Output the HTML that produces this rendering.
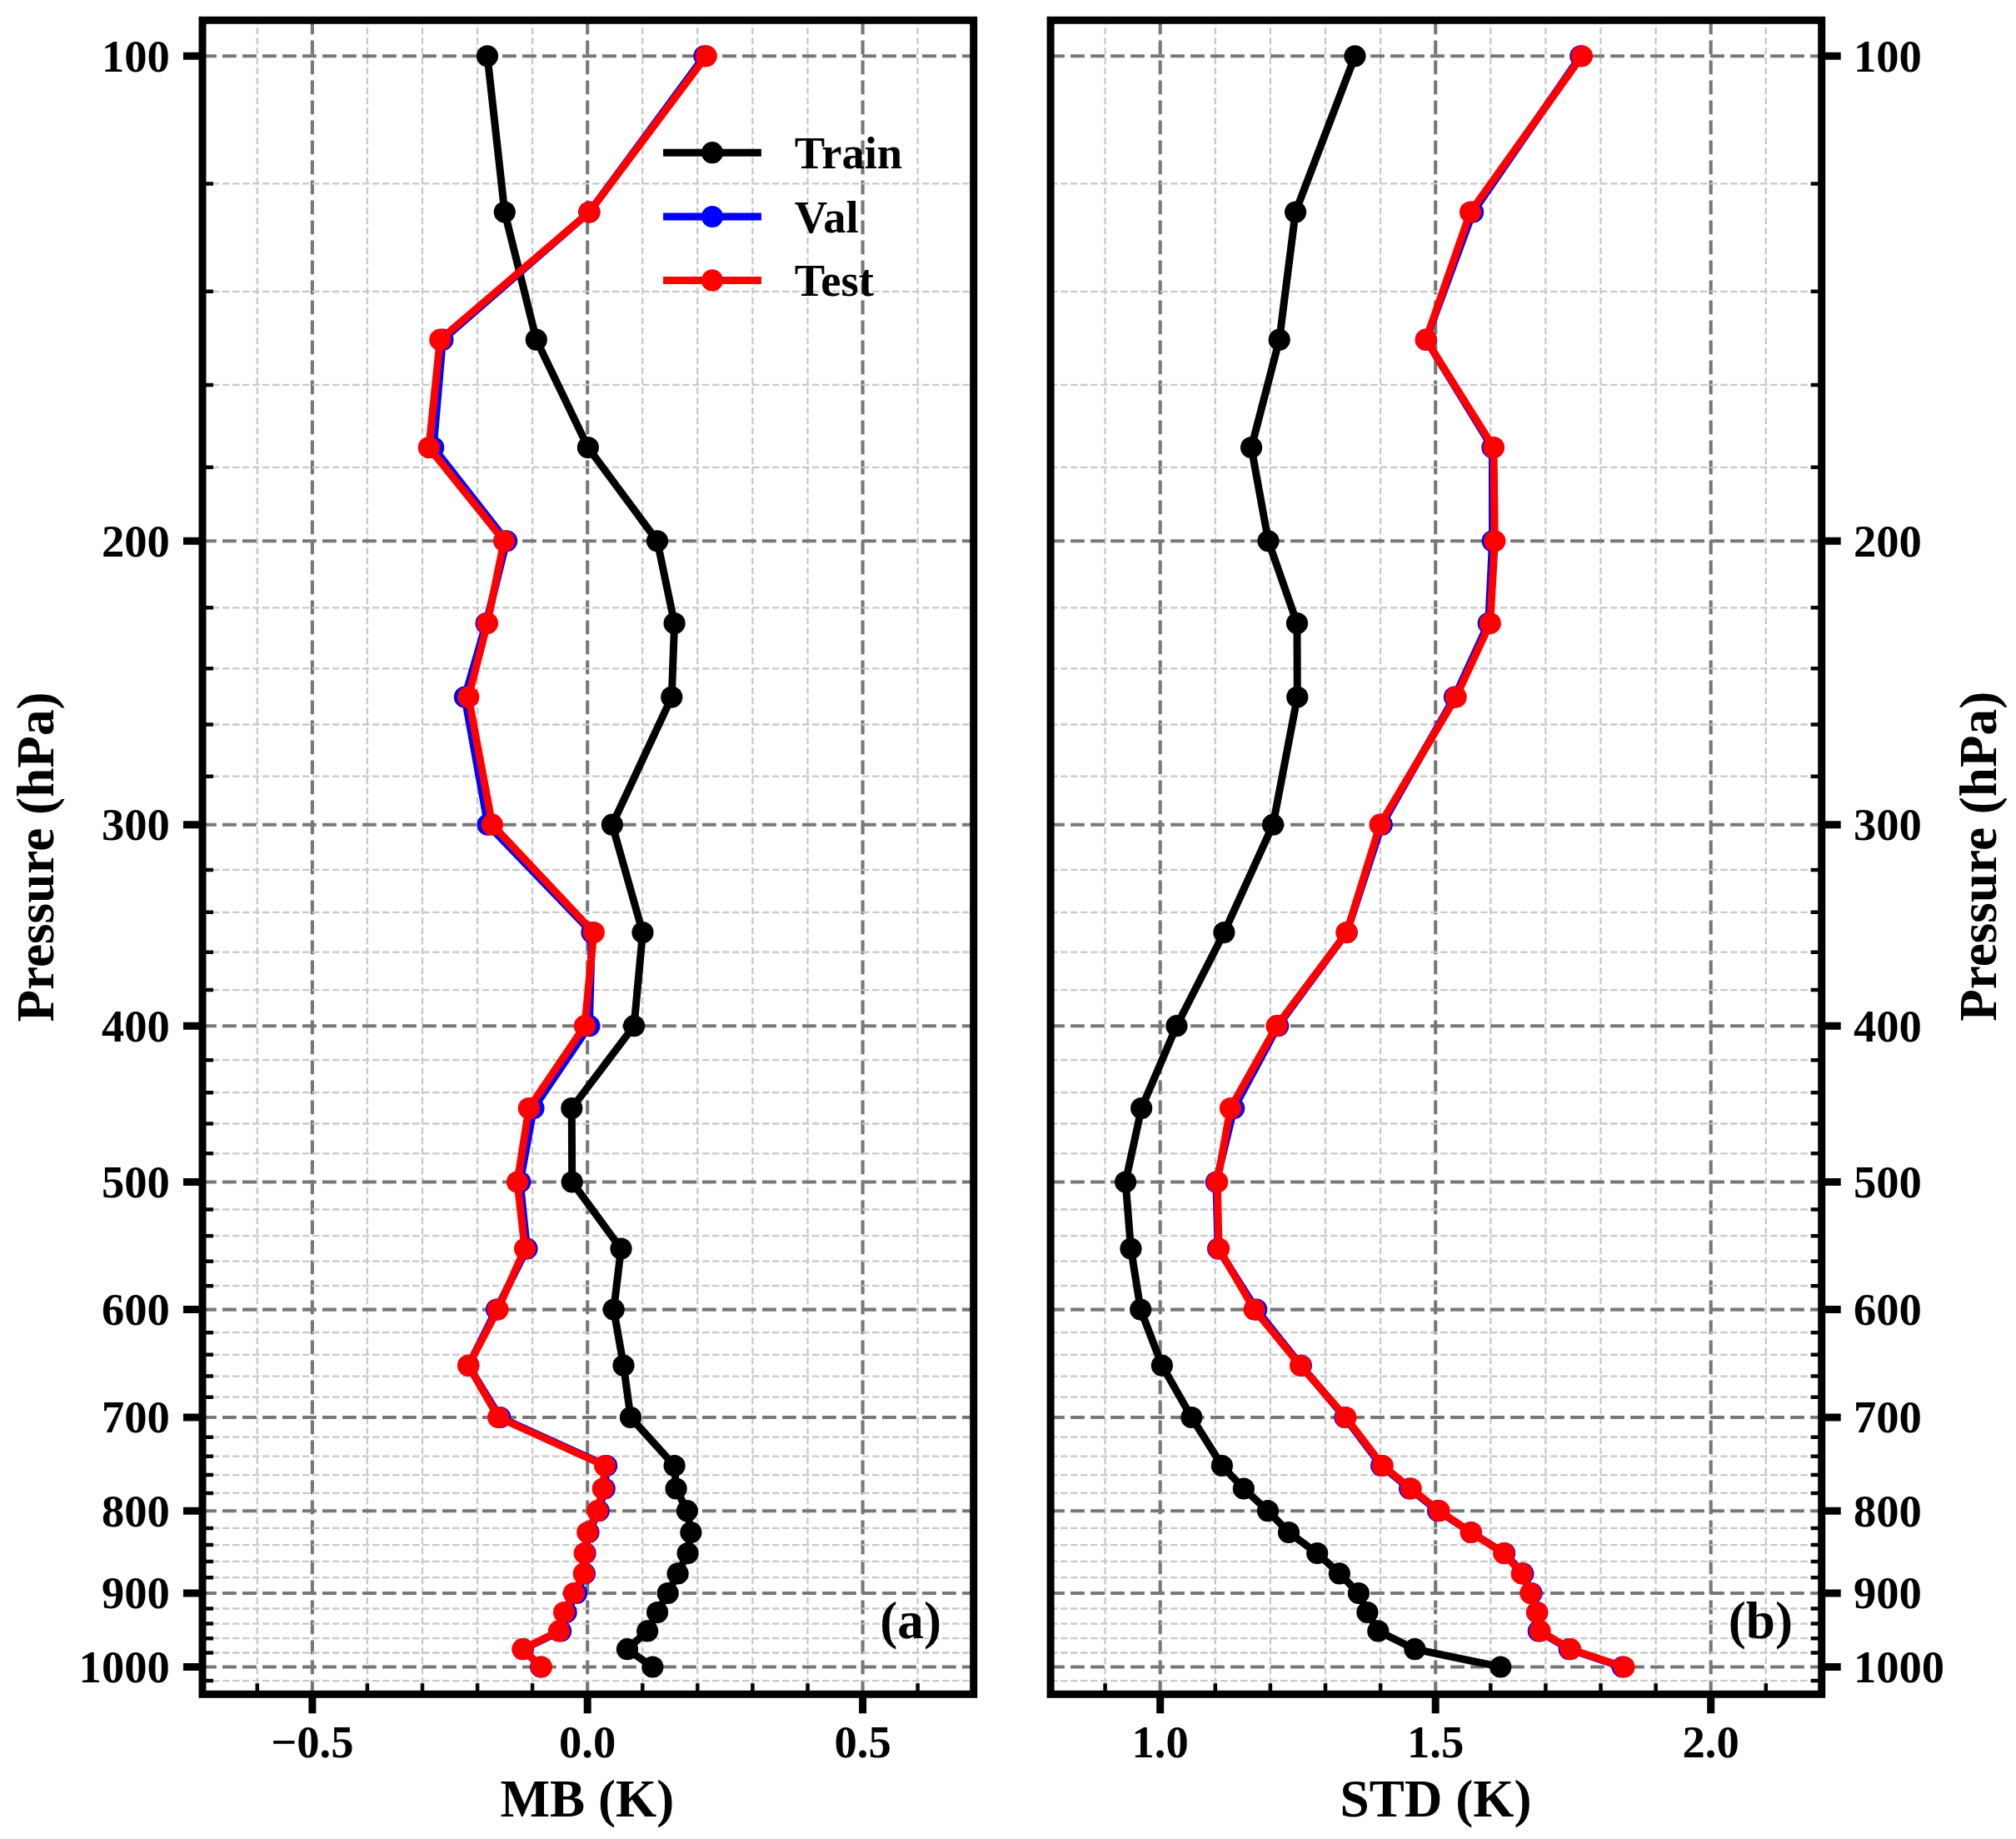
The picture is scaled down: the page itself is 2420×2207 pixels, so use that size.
<!DOCTYPE html>
<html lang="en"><head><meta charset="utf-8"><title>MB and STD profiles</title>
<style>html,body{margin:0;padding:0;background:#fff}svg{display:block}text{font-family:'Liberation Serif', 'Times New Roman', Times, serif;font-weight:bold;fill:#000}.tk{font-size:54.6px}.lb{font-size:63.2px}</style></head><body>
<svg width="2420" height="2207" viewBox="0 0 2420 2207">
<rect width="2420" height="2207" fill="#fff"/>
<g>
<path d="M374.9 2033.3V24.3M705.2 2033.3V24.3M1035.6 2033.3V24.3" fill="none" stroke="#787878" stroke-width="4.1" stroke-dasharray="16.8 7.2"/>
<path d="M308.8 2033.3V24.3M440.9 2033.3V24.3M507.0 2033.3V24.3M573.1 2033.3V24.3M639.1 2033.3V24.3M771.3 2033.3V24.3M837.3 2033.3V24.3M903.4 2033.3V24.3M969.5 2033.3V24.3M1101.6 2033.3V24.3" fill="none" stroke="#c9c9c9" stroke-width="2.3" stroke-dasharray="8.4 3.6"/>
<path d="M243.0 67.3H1168.7M243.0 649.3H1168.7M243.0 989.7H1168.7M243.0 1231.2H1168.7M243.0 1418.5H1168.7M243.0 1571.6H1168.7M243.0 1701.0H1168.7M243.0 1813.2H1168.7M243.0 1912.0H1168.7M243.0 2000.5H1168.7" fill="none" stroke="#787878" stroke-width="4.1" stroke-dasharray="16.8 7.2"/>
<path d="M243.0 220.4H1168.7M243.0 349.8H1168.7M243.0 461.9H1168.7M243.0 560.8H1168.7M243.0 729.3H1168.7M243.0 802.3H1168.7M243.0 869.5H1168.7M243.0 931.7H1168.7M243.0 1043.9H1168.7M243.0 1094.8H1168.7M243.0 1142.7H1168.7M243.0 1188.1H1168.7M243.0 1272.2H1168.7M243.0 1311.2H1168.7M243.0 1348.5H1168.7M243.0 1384.3H1168.7M243.0 1451.5H1168.7M243.0 1483.2H1168.7M243.0 1513.7H1168.7M243.0 1543.2H1168.7M243.0 1599.2H1168.7M243.0 1625.8H1168.7M243.0 1651.6H1168.7M243.0 1676.7H1168.7M243.0 1724.7H1168.7M243.0 1747.7H1168.7M243.0 1770.1H1168.7M243.0 1791.9H1168.7M243.0 1833.9H1168.7M243.0 1854.1H1168.7M243.0 1873.9H1168.7M243.0 1893.2H1168.7M243.0 1930.5H1168.7M243.0 1948.6H1168.7M243.0 1966.2H1168.7M243.0 1983.5H1168.7M243.0 2017.1H1168.7" fill="none" stroke="#c9c9c9" stroke-width="2.3" stroke-dasharray="8.4 3.6"/>
<polyline points="585.0,67.3 605.8,254.6 643.8,407.7 705.9,537.1 789.0,649.3 809.6,748.1 806.3,836.6 734.9,989.7 771.5,1119.1 761.1,1231.2 686.3,1330.1 686.7,1418.5 745.5,1498.6 736.7,1571.6 748.5,1638.8 757.0,1701.0 809.6,1759.0 811.6,1786.5 824.9,1813.2 829.4,1839.0 825.6,1864.1 813.6,1888.4 801.7,1912.0 789.1,1935.0 777.2,1957.4 753.0,1979.2 783.4,2000.5" fill="none" stroke="#000000" stroke-width="9.0" stroke-linejoin="round" stroke-linecap="square"/>
<g fill="#000000"><circle cx="585.0" cy="67.3" r="13.1"/><circle cx="605.8" cy="254.6" r="13.1"/><circle cx="643.8" cy="407.7" r="13.1"/><circle cx="705.9" cy="537.1" r="13.1"/><circle cx="789.0" cy="649.3" r="13.1"/><circle cx="809.6" cy="748.1" r="13.1"/><circle cx="806.3" cy="836.6" r="13.1"/><circle cx="734.9" cy="989.7" r="13.1"/><circle cx="771.5" cy="1119.1" r="13.1"/><circle cx="761.1" cy="1231.2" r="13.1"/><circle cx="686.3" cy="1330.1" r="13.1"/><circle cx="686.7" cy="1418.5" r="13.1"/><circle cx="745.5" cy="1498.6" r="13.1"/><circle cx="736.7" cy="1571.6" r="13.1"/><circle cx="748.5" cy="1638.8" r="13.1"/><circle cx="757.0" cy="1701.0" r="13.1"/><circle cx="809.6" cy="1759.0" r="13.1"/><circle cx="811.6" cy="1786.5" r="13.1"/><circle cx="824.9" cy="1813.2" r="13.1"/><circle cx="829.4" cy="1839.0" r="13.1"/><circle cx="825.6" cy="1864.1" r="13.1"/><circle cx="813.6" cy="1888.4" r="13.1"/><circle cx="801.7" cy="1912.0" r="13.1"/><circle cx="789.1" cy="1935.0" r="13.1"/><circle cx="777.2" cy="1957.4" r="13.1"/><circle cx="753.0" cy="1979.2" r="13.1"/><circle cx="783.4" cy="2000.5" r="13.1"/></g>
<polyline points="845.5,67.3 707.4,254.6 531.4,407.7 520.2,537.1 608.1,649.3 583.6,748.1 557.9,836.6 585.6,989.7 710.5,1119.1 707.4,1231.2 640.5,1330.1 624.3,1418.5 632.5,1498.6 596.0,1571.6 562.3,1638.8 600.3,1701.0 728.1,1759.0 725.7,1786.5 718.8,1813.2 706.5,1839.0 702.6,1864.1 701.9,1888.4 692.1,1912.0 679.6,1935.0 673.1,1957.4 627.9,1979.2 649.2,2000.5" fill="none" stroke="#0000ff" stroke-width="9.0" stroke-linejoin="round" stroke-linecap="square"/>
<g fill="#0000ff"><circle cx="845.5" cy="67.3" r="13.1"/><circle cx="707.4" cy="254.6" r="13.1"/><circle cx="531.4" cy="407.7" r="13.1"/><circle cx="520.2" cy="537.1" r="13.1"/><circle cx="608.1" cy="649.3" r="13.1"/><circle cx="583.6" cy="748.1" r="13.1"/><circle cx="557.9" cy="836.6" r="13.1"/><circle cx="585.6" cy="989.7" r="13.1"/><circle cx="710.5" cy="1119.1" r="13.1"/><circle cx="707.4" cy="1231.2" r="13.1"/><circle cx="640.5" cy="1330.1" r="13.1"/><circle cx="624.3" cy="1418.5" r="13.1"/><circle cx="632.5" cy="1498.6" r="13.1"/><circle cx="596.0" cy="1571.6" r="13.1"/><circle cx="562.3" cy="1638.8" r="13.1"/><circle cx="600.3" cy="1701.0" r="13.1"/><circle cx="728.1" cy="1759.0" r="13.1"/><circle cx="725.7" cy="1786.5" r="13.1"/><circle cx="718.8" cy="1813.2" r="13.1"/><circle cx="706.5" cy="1839.0" r="13.1"/><circle cx="702.6" cy="1864.1" r="13.1"/><circle cx="701.9" cy="1888.4" r="13.1"/><circle cx="692.1" cy="1912.0" r="13.1"/><circle cx="679.6" cy="1935.0" r="13.1"/><circle cx="673.1" cy="1957.4" r="13.1"/><circle cx="627.9" cy="1979.2" r="13.1"/><circle cx="649.2" cy="2000.5" r="13.1"/></g>
<polyline points="847.7,67.3 707.4,254.6 528.3,407.7 514.9,537.1 605.1,649.3 585.0,748.1 562.3,836.6 590.9,989.7 712.8,1119.1 701.9,1231.2 634.9,1330.1 621.0,1418.5 630.1,1498.6 597.5,1571.6 562.3,1638.8 598.2,1701.0 726.1,1759.0 723.8,1786.5 717.2,1813.2 705.3,1839.0 701.7,1864.1 700.8,1888.4 688.9,1912.0 677.1,1935.0 671.0,1957.4 627.4,1979.2 649.8,2000.5" fill="none" stroke="#ff0000" stroke-width="9.0" stroke-linejoin="round" stroke-linecap="square"/>
<g fill="#ff0000"><circle cx="847.7" cy="67.3" r="13.1"/><circle cx="707.4" cy="254.6" r="13.1"/><circle cx="528.3" cy="407.7" r="13.1"/><circle cx="514.9" cy="537.1" r="13.1"/><circle cx="605.1" cy="649.3" r="13.1"/><circle cx="585.0" cy="748.1" r="13.1"/><circle cx="562.3" cy="836.6" r="13.1"/><circle cx="590.9" cy="989.7" r="13.1"/><circle cx="712.8" cy="1119.1" r="13.1"/><circle cx="701.9" cy="1231.2" r="13.1"/><circle cx="634.9" cy="1330.1" r="13.1"/><circle cx="621.0" cy="1418.5" r="13.1"/><circle cx="630.1" cy="1498.6" r="13.1"/><circle cx="597.5" cy="1571.6" r="13.1"/><circle cx="562.3" cy="1638.8" r="13.1"/><circle cx="598.2" cy="1701.0" r="13.1"/><circle cx="726.1" cy="1759.0" r="13.1"/><circle cx="723.8" cy="1786.5" r="13.1"/><circle cx="717.2" cy="1813.2" r="13.1"/><circle cx="705.3" cy="1839.0" r="13.1"/><circle cx="701.7" cy="1864.1" r="13.1"/><circle cx="700.8" cy="1888.4" r="13.1"/><circle cx="688.9" cy="1912.0" r="13.1"/><circle cx="677.1" cy="1935.0" r="13.1"/><circle cx="671.0" cy="1957.4" r="13.1"/><circle cx="627.4" cy="1979.2" r="13.1"/><circle cx="649.8" cy="2000.5" r="13.1"/></g>
<path d="M308.8 2033.3v-13.0M440.9 2033.3v-13.0M507.0 2033.3v-13.0M573.1 2033.3v-13.0M639.1 2033.3v-13.0M771.3 2033.3v-13.0M837.3 2033.3v-13.0M903.4 2033.3v-13.0M969.5 2033.3v-13.0M1101.6 2033.3v-13.0M243.0 220.4h13.0M243.0 349.8h13.0M243.0 461.9h13.0M243.0 560.8h13.0M243.0 729.3h13.0M243.0 802.3h13.0M243.0 869.5h13.0M243.0 931.7h13.0M243.0 1043.9h13.0M243.0 1094.8h13.0M243.0 1142.7h13.0M243.0 1188.1h13.0M243.0 1272.2h13.0M243.0 1311.2h13.0M243.0 1348.5h13.0M243.0 1384.3h13.0M243.0 1451.5h13.0M243.0 1483.2h13.0M243.0 1513.7h13.0M243.0 1543.2h13.0M243.0 1599.2h13.0M243.0 1625.8h13.0M243.0 1651.6h13.0M243.0 1676.7h13.0M243.0 1724.7h13.0M243.0 1747.7h13.0M243.0 1770.1h13.0M243.0 1791.9h13.0M243.0 1833.9h13.0M243.0 1854.1h13.0M243.0 1873.9h13.0M243.0 1893.2h13.0M243.0 1930.5h13.0M243.0 1948.6h13.0M243.0 1966.2h13.0M243.0 1983.5h13.0M243.0 2017.1h13.0" fill="none" stroke="#000" stroke-width="4.5"/>
<path d="M374.9 2033.3v23.0M705.2 2033.3v23.0M1035.6 2033.3v23.0M243.0 67.3h-23.0M243.0 649.3h-23.0M243.0 989.7h-23.0M243.0 1231.2h-23.0M243.0 1418.5h-23.0M243.0 1571.6h-23.0M243.0 1701.0h-23.0M243.0 1813.2h-23.0M243.0 1912.0h-23.0M243.0 2000.5h-23.0" fill="none" stroke="#000" stroke-width="9.0"/>
<rect x="243.0" y="24.3" width="925.7" height="2009.0" fill="none" stroke="#000" stroke-width="9.0"/>
<text class="tk" x="374.9" y="2108.6" text-anchor="middle">−0.5</text>
<text class="tk" x="705.2" y="2108.6" text-anchor="middle">0.0</text>
<text class="tk" x="1035.6" y="2108.6" text-anchor="middle">0.5</text>
<text class="tk" x="203.8" y="85.7" text-anchor="end">100</text>
<text class="tk" x="203.8" y="667.7" text-anchor="end">200</text>
<text class="tk" x="203.8" y="1008.1" text-anchor="end">300</text>
<text class="tk" x="203.8" y="1249.6" text-anchor="end">400</text>
<text class="tk" x="203.8" y="1436.9" text-anchor="end">500</text>
<text class="tk" x="203.8" y="1590.0" text-anchor="end">600</text>
<text class="tk" x="203.8" y="1719.4" text-anchor="end">700</text>
<text class="tk" x="203.8" y="1831.6" text-anchor="end">800</text>
<text class="tk" x="203.8" y="1930.4" text-anchor="end">900</text>
<text class="tk" x="203.8" y="2018.9" text-anchor="end">1000</text>
</g>
<g>
<path d="M1392.7 2033.3V24.3M1723.2 2033.3V24.3M2053.7 2033.3V24.3" fill="none" stroke="#787878" stroke-width="4.1" stroke-dasharray="16.8 7.2"/>
<path d="M1326.6 2033.3V24.3M1458.8 2033.3V24.3M1524.9 2033.3V24.3M1591.0 2033.3V24.3M1657.1 2033.3V24.3M1789.3 2033.3V24.3M1855.4 2033.3V24.3M1921.5 2033.3V24.3M1987.6 2033.3V24.3M2119.8 2033.3V24.3" fill="none" stroke="#c9c9c9" stroke-width="2.3" stroke-dasharray="8.4 3.6"/>
<path d="M1261.1 67.3H2186.7M1261.1 649.3H2186.7M1261.1 989.7H2186.7M1261.1 1231.2H2186.7M1261.1 1418.5H2186.7M1261.1 1571.6H2186.7M1261.1 1701.0H2186.7M1261.1 1813.2H2186.7M1261.1 1912.0H2186.7M1261.1 2000.5H2186.7" fill="none" stroke="#787878" stroke-width="4.1" stroke-dasharray="16.8 7.2"/>
<path d="M1261.1 220.4H2186.7M1261.1 349.8H2186.7M1261.1 461.9H2186.7M1261.1 560.8H2186.7M1261.1 729.3H2186.7M1261.1 802.3H2186.7M1261.1 869.5H2186.7M1261.1 931.7H2186.7M1261.1 1043.9H2186.7M1261.1 1094.8H2186.7M1261.1 1142.7H2186.7M1261.1 1188.1H2186.7M1261.1 1272.2H2186.7M1261.1 1311.2H2186.7M1261.1 1348.5H2186.7M1261.1 1384.3H2186.7M1261.1 1451.5H2186.7M1261.1 1483.2H2186.7M1261.1 1513.7H2186.7M1261.1 1543.2H2186.7M1261.1 1599.2H2186.7M1261.1 1625.8H2186.7M1261.1 1651.6H2186.7M1261.1 1676.7H2186.7M1261.1 1724.7H2186.7M1261.1 1747.7H2186.7M1261.1 1770.1H2186.7M1261.1 1791.9H2186.7M1261.1 1833.9H2186.7M1261.1 1854.1H2186.7M1261.1 1873.9H2186.7M1261.1 1893.2H2186.7M1261.1 1930.5H2186.7M1261.1 1948.6H2186.7M1261.1 1966.2H2186.7M1261.1 1983.5H2186.7M1261.1 2017.1H2186.7" fill="none" stroke="#c9c9c9" stroke-width="2.3" stroke-dasharray="8.4 3.6"/>
<polyline points="1626.5,67.3 1555.1,254.6 1535.7,407.7 1502.1,537.1 1522.5,649.3 1557.0,748.1 1557.3,836.6 1528.1,989.7 1469.4,1119.1 1412.4,1231.2 1370.2,1330.1 1351.1,1418.5 1357.5,1498.6 1369.2,1571.6 1394.9,1638.8 1430.4,1701.0 1466.9,1759.0 1492.9,1786.5 1522.0,1813.2 1547.0,1839.0 1581.2,1864.1 1607.9,1888.4 1630.9,1912.0 1641.4,1935.0 1654.3,1957.4 1698.4,1979.2 1801.3,2000.5" fill="none" stroke="#000000" stroke-width="9.0" stroke-linejoin="round" stroke-linecap="square"/>
<g fill="#000000"><circle cx="1626.5" cy="67.3" r="13.1"/><circle cx="1555.1" cy="254.6" r="13.1"/><circle cx="1535.7" cy="407.7" r="13.1"/><circle cx="1502.1" cy="537.1" r="13.1"/><circle cx="1522.5" cy="649.3" r="13.1"/><circle cx="1557.0" cy="748.1" r="13.1"/><circle cx="1557.3" cy="836.6" r="13.1"/><circle cx="1528.1" cy="989.7" r="13.1"/><circle cx="1469.4" cy="1119.1" r="13.1"/><circle cx="1412.4" cy="1231.2" r="13.1"/><circle cx="1370.2" cy="1330.1" r="13.1"/><circle cx="1351.1" cy="1418.5" r="13.1"/><circle cx="1357.5" cy="1498.6" r="13.1"/><circle cx="1369.2" cy="1571.6" r="13.1"/><circle cx="1394.9" cy="1638.8" r="13.1"/><circle cx="1430.4" cy="1701.0" r="13.1"/><circle cx="1466.9" cy="1759.0" r="13.1"/><circle cx="1492.9" cy="1786.5" r="13.1"/><circle cx="1522.0" cy="1813.2" r="13.1"/><circle cx="1547.0" cy="1839.0" r="13.1"/><circle cx="1581.2" cy="1864.1" r="13.1"/><circle cx="1607.9" cy="1888.4" r="13.1"/><circle cx="1630.9" cy="1912.0" r="13.1"/><circle cx="1641.4" cy="1935.0" r="13.1"/><circle cx="1654.3" cy="1957.4" r="13.1"/><circle cx="1698.4" cy="1979.2" r="13.1"/><circle cx="1801.3" cy="2000.5" r="13.1"/></g>
<polyline points="1897.3,67.3 1768.1,254.6 1711.8,407.7 1791.4,537.1 1791.6,649.3 1786.7,748.1 1746.0,836.6 1658.8,989.7 1616.6,1119.1 1534.2,1231.2 1481.2,1330.1 1459.9,1418.5 1462.1,1498.6 1508.2,1571.6 1561.9,1638.8 1614.4,1701.0 1658.2,1759.0 1692.1,1786.5 1726.1,1813.2 1765.8,1839.0 1806.1,1864.1 1828.3,1888.4 1838.5,1912.0 1845.2,1935.0 1846.8,1957.4 1883.7,1979.2 1947.7,2000.5" fill="none" stroke="#0000ff" stroke-width="9.0" stroke-linejoin="round" stroke-linecap="square"/>
<g fill="#0000ff"><circle cx="1897.3" cy="67.3" r="13.1"/><circle cx="1768.1" cy="254.6" r="13.1"/><circle cx="1711.8" cy="407.7" r="13.1"/><circle cx="1791.4" cy="537.1" r="13.1"/><circle cx="1791.6" cy="649.3" r="13.1"/><circle cx="1786.7" cy="748.1" r="13.1"/><circle cx="1746.0" cy="836.6" r="13.1"/><circle cx="1658.8" cy="989.7" r="13.1"/><circle cx="1616.6" cy="1119.1" r="13.1"/><circle cx="1534.2" cy="1231.2" r="13.1"/><circle cx="1481.2" cy="1330.1" r="13.1"/><circle cx="1459.9" cy="1418.5" r="13.1"/><circle cx="1462.1" cy="1498.6" r="13.1"/><circle cx="1508.2" cy="1571.6" r="13.1"/><circle cx="1561.9" cy="1638.8" r="13.1"/><circle cx="1614.4" cy="1701.0" r="13.1"/><circle cx="1658.2" cy="1759.0" r="13.1"/><circle cx="1692.1" cy="1786.5" r="13.1"/><circle cx="1726.1" cy="1813.2" r="13.1"/><circle cx="1765.8" cy="1839.0" r="13.1"/><circle cx="1806.1" cy="1864.1" r="13.1"/><circle cx="1828.3" cy="1888.4" r="13.1"/><circle cx="1838.5" cy="1912.0" r="13.1"/><circle cx="1845.2" cy="1935.0" r="13.1"/><circle cx="1846.8" cy="1957.4" r="13.1"/><circle cx="1883.7" cy="1979.2" r="13.1"/><circle cx="1947.7" cy="2000.5" r="13.1"/></g>
<polyline points="1898.9,67.3 1765.0,254.6 1711.8,407.7 1793.0,537.1 1794.3,649.3 1788.8,748.1 1747.7,836.6 1656.6,989.7 1616.6,1119.1 1532.6,1231.2 1477.0,1330.1 1461.2,1418.5 1463.1,1498.6 1505.6,1571.6 1561.1,1638.8 1615.4,1701.0 1659.7,1759.0 1693.7,1786.5 1727.6,1813.2 1765.8,1839.0 1805.2,1864.1 1826.8,1888.4 1837.3,1912.0 1845.2,1935.0 1848.5,1957.4 1885.1,1979.2 1949.4,2000.5" fill="none" stroke="#ff0000" stroke-width="9.0" stroke-linejoin="round" stroke-linecap="square"/>
<g fill="#ff0000"><circle cx="1898.9" cy="67.3" r="13.1"/><circle cx="1765.0" cy="254.6" r="13.1"/><circle cx="1711.8" cy="407.7" r="13.1"/><circle cx="1793.0" cy="537.1" r="13.1"/><circle cx="1794.3" cy="649.3" r="13.1"/><circle cx="1788.8" cy="748.1" r="13.1"/><circle cx="1747.7" cy="836.6" r="13.1"/><circle cx="1656.6" cy="989.7" r="13.1"/><circle cx="1616.6" cy="1119.1" r="13.1"/><circle cx="1532.6" cy="1231.2" r="13.1"/><circle cx="1477.0" cy="1330.1" r="13.1"/><circle cx="1461.2" cy="1418.5" r="13.1"/><circle cx="1463.1" cy="1498.6" r="13.1"/><circle cx="1505.6" cy="1571.6" r="13.1"/><circle cx="1561.1" cy="1638.8" r="13.1"/><circle cx="1615.4" cy="1701.0" r="13.1"/><circle cx="1659.7" cy="1759.0" r="13.1"/><circle cx="1693.7" cy="1786.5" r="13.1"/><circle cx="1727.6" cy="1813.2" r="13.1"/><circle cx="1765.8" cy="1839.0" r="13.1"/><circle cx="1805.2" cy="1864.1" r="13.1"/><circle cx="1826.8" cy="1888.4" r="13.1"/><circle cx="1837.3" cy="1912.0" r="13.1"/><circle cx="1845.2" cy="1935.0" r="13.1"/><circle cx="1848.5" cy="1957.4" r="13.1"/><circle cx="1885.1" cy="1979.2" r="13.1"/><circle cx="1949.4" cy="2000.5" r="13.1"/></g>
<path d="M1326.6 2033.3v-13.0M1458.8 2033.3v-13.0M1524.9 2033.3v-13.0M1591.0 2033.3v-13.0M1657.1 2033.3v-13.0M1789.3 2033.3v-13.0M1855.4 2033.3v-13.0M1921.5 2033.3v-13.0M1987.6 2033.3v-13.0M2119.8 2033.3v-13.0M2186.7 220.4h-13.0M2186.7 349.8h-13.0M2186.7 461.9h-13.0M2186.7 560.8h-13.0M2186.7 729.3h-13.0M2186.7 802.3h-13.0M2186.7 869.5h-13.0M2186.7 931.7h-13.0M2186.7 1043.9h-13.0M2186.7 1094.8h-13.0M2186.7 1142.7h-13.0M2186.7 1188.1h-13.0M2186.7 1272.2h-13.0M2186.7 1311.2h-13.0M2186.7 1348.5h-13.0M2186.7 1384.3h-13.0M2186.7 1451.5h-13.0M2186.7 1483.2h-13.0M2186.7 1513.7h-13.0M2186.7 1543.2h-13.0M2186.7 1599.2h-13.0M2186.7 1625.8h-13.0M2186.7 1651.6h-13.0M2186.7 1676.7h-13.0M2186.7 1724.7h-13.0M2186.7 1747.7h-13.0M2186.7 1770.1h-13.0M2186.7 1791.9h-13.0M2186.7 1833.9h-13.0M2186.7 1854.1h-13.0M2186.7 1873.9h-13.0M2186.7 1893.2h-13.0M2186.7 1930.5h-13.0M2186.7 1948.6h-13.0M2186.7 1966.2h-13.0M2186.7 1983.5h-13.0M2186.7 2017.1h-13.0" fill="none" stroke="#000" stroke-width="4.5"/>
<path d="M1392.7 2033.3v23.0M1723.2 2033.3v23.0M2053.7 2033.3v23.0M2186.7 67.3h23.0M2186.7 649.3h23.0M2186.7 989.7h23.0M2186.7 1231.2h23.0M2186.7 1418.5h23.0M2186.7 1571.6h23.0M2186.7 1701.0h23.0M2186.7 1813.2h23.0M2186.7 1912.0h23.0M2186.7 2000.5h23.0" fill="none" stroke="#000" stroke-width="9.0"/>
<rect x="1261.1" y="24.3" width="925.6" height="2009.0" fill="none" stroke="#000" stroke-width="9.0"/>
<text class="tk" x="1392.7" y="2108.6" text-anchor="middle">1.0</text>
<text class="tk" x="1723.2" y="2108.6" text-anchor="middle">1.5</text>
<text class="tk" x="2053.7" y="2108.6" text-anchor="middle">2.0</text>
<text class="tk" x="2224.9" y="85.7" text-anchor="start">100</text>
<text class="tk" x="2224.9" y="667.7" text-anchor="start">200</text>
<text class="tk" x="2224.9" y="1008.1" text-anchor="start">300</text>
<text class="tk" x="2224.9" y="1249.6" text-anchor="start">400</text>
<text class="tk" x="2224.9" y="1436.9" text-anchor="start">500</text>
<text class="tk" x="2224.9" y="1590.0" text-anchor="start">600</text>
<text class="tk" x="2224.9" y="1719.4" text-anchor="start">700</text>
<text class="tk" x="2224.9" y="1831.6" text-anchor="start">800</text>
<text class="tk" x="2224.9" y="1930.4" text-anchor="start">900</text>
<text class="tk" x="2224.9" y="2018.9" text-anchor="start">1000</text>
</g>
<text class="lb" x="704.8" y="2179.8" text-anchor="middle">MB (K)</text>
<text class="lb" x="1723.5" y="2179.8" text-anchor="middle">STD (K)</text>
<text class="lb" transform="translate(63.9 1028.5) rotate(-90)" text-anchor="middle">Pressure (hPa)</text>
<text class="lb" transform="translate(2396.1 1027.8) rotate(-90)" text-anchor="middle">Pressure (hPa)</text>
<text class="lb" x="1130" y="1966.4" text-anchor="end">(a)</text>
<text class="lb" x="2152" y="1966.4" text-anchor="end">(b)</text>
<path d="M800.6 183.2H909.4" stroke="#000000" stroke-width="9.0" stroke-linecap="square" fill="none"/>
<circle cx="855" cy="183.2" r="13.1" fill="#000000"/>
<text class="tk" x="953.8" y="202.4">Train</text>
<path d="M800.6 260.0H909.4" stroke="#0000ff" stroke-width="9.0" stroke-linecap="square" fill="none"/>
<circle cx="855" cy="260.0" r="13.1" fill="#0000ff"/>
<text class="tk" x="953.8" y="278.8">Val</text>
<path d="M800.6 336.4H909.4" stroke="#ff0000" stroke-width="9.0" stroke-linecap="square" fill="none"/>
<circle cx="855" cy="336.4" r="13.1" fill="#ff0000"/>
<text class="tk" x="953.8" y="355.2">Test</text>
</svg></body></html>
